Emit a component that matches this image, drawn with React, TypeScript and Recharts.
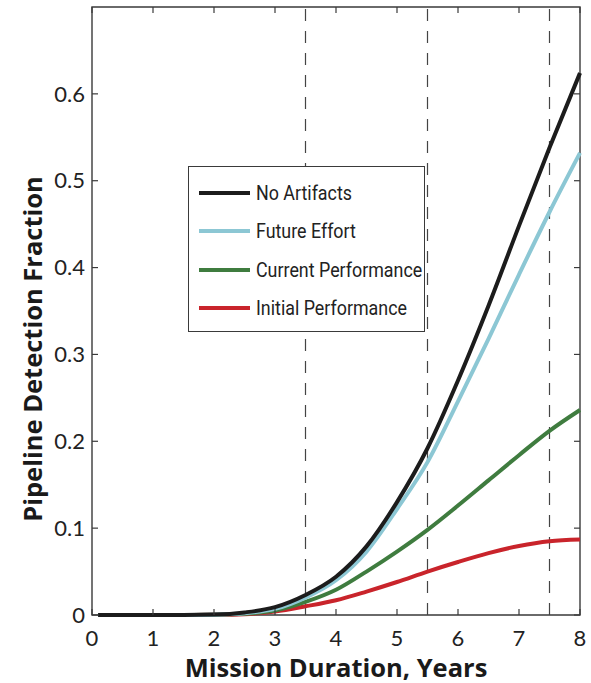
import React from 'react';
import { LineChart, Line, XAxis, YAxis, ReferenceLine, ReferenceArea, Legend } from 'recharts';

// Mission duration (years) and pipeline detection fraction for each scenario
const years = [0.1, 0.5, 1, 1.5, 2, 2.5, 3, 3.5, 4, 4.5, 5, 5.5, 6, 6.5, 7, 7.5, 8];
const noArtifacts = [0, 0, 0, 0, 0.0005, 0.003, 0.009, 0.023, 0.044, 0.079, 0.13, 0.192, 0.27, 0.356, 0.448, 0.538, 0.624];
const futureEffort = [0, 0, 0, 0, 0.0004, 0.002, 0.007, 0.02, 0.04, 0.073, 0.122, 0.176, 0.246, 0.318, 0.392, 0.464, 0.532];
const currentPerformance = [0, 0, 0, 0, 0.0003, 0.0015, 0.005, 0.015, 0.029, 0.05, 0.073, 0.098, 0.126, 0.155, 0.184, 0.212, 0.236];
const initialPerformance = [0, 0, 0, 0, 0.0002, 0.001, 0.004, 0.01, 0.017, 0.027, 0.038, 0.05, 0.061, 0.0712, 0.0795, 0.085, 0.087];

const xTicks = [0, 1, 2, 3, 4, 5, 6, 7, 8];
const yTicks = [0, 0.1, 0.2, 0.3, 0.4, 0.5, 0.6];
const markerYears = [3.5, 5.5, 7.5];

const series = [
  { key: 'noArtifacts', name: 'No Artifacts', color: '#1c1c1c', values: noArtifacts },
  { key: 'futureEffort', name: 'Future Effort', color: '#8cc7d4', values: futureEffort },
  { key: 'currentPerformance', name: 'Current Performance', color: '#3f7c3f', values: currentPerformance },
  { key: 'initialPerformance', name: 'Initial Performance', color: '#c9242b', values: initialPerformance },
];

const data = years.map((t, i) => {
  const row: Record<string, number> = { t };
  series.forEach((s) => {
    row[s.key] = s.values[i];
  });
  return row;
});

const W = 591;
const H = 683;
const MARGIN = { top: 7, right: 11, bottom: 0, left: 0 };
const Y_AXIS_W = 92;
const X_AXIS_H = 68;
const PLOT_LEFT = MARGIN.left + Y_AXIS_W;
const PLOT_TOP = MARGIN.top;
const PLOT_RIGHT = W - MARGIN.right;
const PLOT_BOTTOM = H - MARGIN.bottom - X_AXIS_H;
const TICK_LEN = 6;
const AXIS_COLOR = '#3a3a3a';
const TICK_FONT = 'Lato, "Open Sans", sans-serif';
const TITLE_FONT = '"Open Sans", Lato, sans-serif';

const fmt = (v: number) => (v === 0 ? '0' : v.toFixed(1));

const XTick = (props: any) => {
  const { x, payload } = props;
  return (
    <g>
      <line x1={x} x2={x} y1={PLOT_BOTTOM} y2={PLOT_BOTTOM - TICK_LEN} stroke={AXIS_COLOR} strokeWidth={1.2} />
      <line x1={x} x2={x} y1={PLOT_TOP} y2={PLOT_TOP + TICK_LEN} stroke={AXIS_COLOR} strokeWidth={1.2} />
      <text x={x} y={PLOT_BOTTOM + 31} textAnchor="middle" fontSize={22} fontFamily={TICK_FONT} fill="#222">
        {payload.value}
      </text>
    </g>
  );
};

const YTick = (props: any) => {
  const { y, payload } = props;
  return (
    <g>
      <line x1={PLOT_LEFT} x2={PLOT_LEFT + TICK_LEN} y1={y} y2={y} stroke={AXIS_COLOR} strokeWidth={1.2} />
      <line x1={PLOT_RIGHT} x2={PLOT_RIGHT - TICK_LEN} y1={y} y2={y} stroke={AXIS_COLOR} strokeWidth={1.2} />
      <text x={PLOT_LEFT - 7} y={y} dy="0.35em" textAnchor="end" fontSize={22} fontFamily={TICK_FONT} fill="#222">
        {fmt(payload.value)}
      </text>
    </g>
  );
};

const YTitle = () => (
  <text
    transform="translate(42, 349) rotate(-90)"
    textAnchor="middle"
    fontFamily={TITLE_FONT}
    fontWeight={700}
    fontSize={25.5}
    fill="#1a1a1a"
  >
    Pipeline Detection Fraction
  </text>
);

const XTitle = () => (
  <text
    x={336}
    y={677}
    textAnchor="middle"
    fontFamily={TITLE_FONT}
    fontWeight={700}
    fontSize={25.5}
    fill="#1a1a1a"
  >
    Mission Duration, Years
  </text>
);

const LegendBox = () => (
  <div
    style={{
      width: 237,
      height: 166,
      boxSizing: 'border-box',
      border: '1.3px solid #3a3a3a',
      background: '#fff',
      paddingTop: 7,
    }}
  >
    {series.map((s) => (
      <div key={s.key} style={{ display: 'flex', alignItems: 'center', height: 38.3 }}>
        <div style={{ flex: '0 0 51px', height: 4, background: s.color, marginLeft: 10, marginRight: 6 }} />
        <span
          style={{
            display: 'inline-block',
            fontFamily: 'Roboto, sans-serif',
            fontSize: 21,
            color: '#222',
            whiteSpace: 'nowrap',
            transform: 'scaleX(0.85)',
            transformOrigin: 'left center',
          }}
        >
          {s.name}
        </span>
      </div>
    ))}
  </div>
);

export default function App() {
  return (
    <div style={{ position: 'absolute', left: 0, top: 0, width: W, height: H, background: '#fff' }}>
      <LineChart width={W} height={H} data={data} margin={MARGIN}>
        <XAxis
          dataKey="t"
          type="number"
          domain={[0, 8]}
          ticks={xTicks}
          height={X_AXIS_H}
          tick={<XTick />}
          tickLine={false}
          axisLine={false}
          interval={0}
          label={<XTitle />}
        />
        <YAxis
          type="number"
          domain={[0, 0.7]}
          ticks={yTicks}
          width={Y_AXIS_W}
          tick={<YTick />}
          tickLine={false}
          axisLine={false}
          interval={0}
          label={<YTitle />}
        />
        <ReferenceArea x1={0} x2={8} y1={0} y2={0.7} fill="none" stroke={AXIS_COLOR} strokeWidth={1.4} ifOverflow="visible" />
        {markerYears.map((m) => (
          <ReferenceLine key={m} x={m} stroke="#444" strokeWidth={1.2} strokeDasharray="12 10" />
        ))}
        {[...series].reverse().map((s) => (
          <Line
            key={s.key}
            dataKey={s.key}
            name={s.name}
            type="monotone"
            stroke={s.color}
            strokeWidth={4}
            dot={false}
            isAnimationActive={false}
          />
        ))}
        <Legend
          layout="vertical"
          align="center"
          verticalAlign="middle"
          content={<LegendBox />}
          wrapperStyle={{ position: 'absolute', left: 188, top: 166, width: 237, height: 166 }}
        />
      </LineChart>
    </div>
  );
}
